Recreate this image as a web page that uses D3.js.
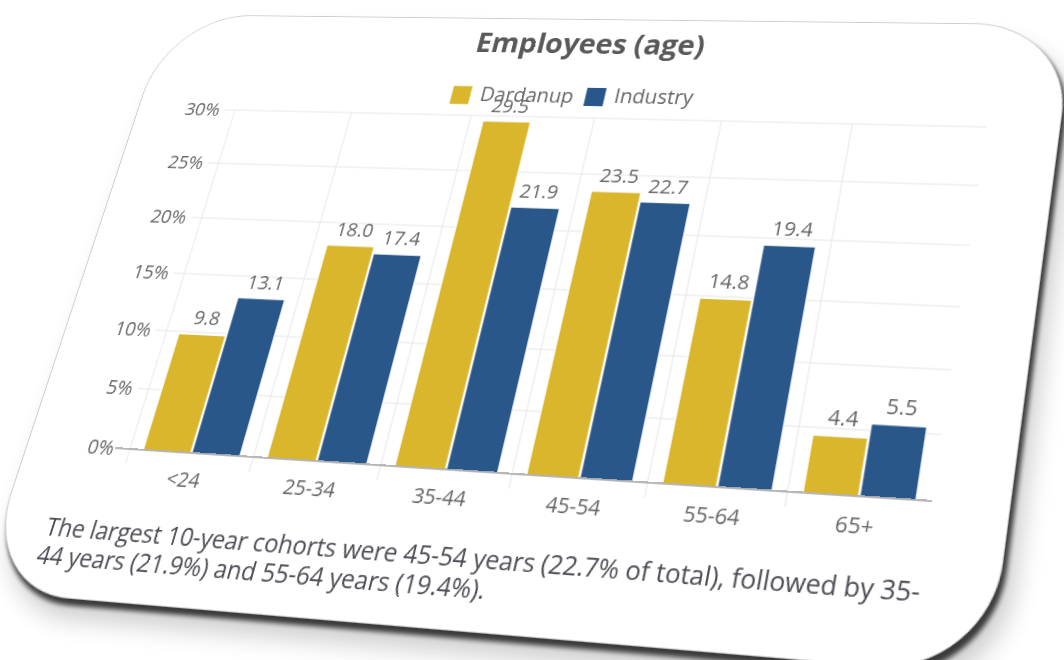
<!DOCTYPE html>
<html><head><meta charset="utf-8">
<script src="https://cdn.jsdelivr.net/npm/d3@7"></script>
<style>
html,body{margin:0;padding:0;background:#fff;overflow:hidden;width:1064px;height:660px;}
#flat{position:absolute;left:0;top:0;width:1200px;height:800px;transform-origin:0 0;}
#card{position:absolute;background:#fff;border:1px solid #cccccc;border-radius:95px;
  box-shadow:4px 6px 4px rgba(0,0,0,0.72), 12px 18px 22px rgba(0,0,0,0.2);}
svg{position:absolute;left:0;top:0;overflow:visible;}
</style></head><body>
<div id="flat"><div id="card"></div><svg id="chart" width="1200" height="800"></svg></div>
<script>
// ---- data ----
const categories = ["<24","25-34","35-44","45-54","55-64","65+"];
const seriesNames = ["Dardanup","Industry"];
const dardanup = [9.8,18.0,29.5,23.5,14.8,4.4];
const industry = [13.1,17.4,21.9,22.7,19.4,5.5];
const yTicks = [0,5,10,15,20,25,30];
const titleText = "Employees (age)";
const captionLines = [
  "The largest 10-year cohorts were 45-54 years (22.7% of total), followed by 35-",
  "44 years (21.9%) and 55-64 years (19.4%)."
];
const colors = ["#dab62c","#29578a"];

// ---- perspective helpers ----
function solveH(src, dst){
  const A=[],b=[];
  for(let i=0;i<4;i++){
    const [x,y]=src[i],[u,v]=dst[i];
    A.push([x,y,1,0,0,0,-u*x,-u*y]); b.push(u);
    A.push([0,0,0,x,y,1,-v*x,-v*y]); b.push(v);
  }
  const n=8;
  for(let c=0;c<n;c++){
    let p=c; for(let r=c+1;r<n;r++) if(Math.abs(A[r][c])>Math.abs(A[p][c])) p=r;
    [A[c],A[p]]=[A[p],A[c]]; [b[c],b[p]]=[b[p],b[c]];
    for(let r=0;r<n;r++){ if(r===c) continue; const f=A[r][c]/A[c][c];
      for(let k=c;k<n;k++) A[r][k]-=f*A[c][k]; b[r]-=f*b[c]; }
  }
  return b.map((v,i)=>v/A[i][i]);
}
function apply(h,[x,y]){ const w=h[6]*x+h[7]*y+1; return [(h[0]*x+h[1]*y+h[2])/w,(h[3]*x+h[4]*y+h[5])/w]; }

// flat layout of the plot area
const PX0=200, PX1=980, PY0=150, PY1=510;
const flatQuad=[[PX0,PY0],[PX1,PY0],[PX1,PY1],[PX0,PY1]];
const imgQuad=[[235,110],[987,127],[932,501],[130,449]];
const H=solveH(flatQuad,imgQuad), Hi=solveH(imgQuad,flatQuad);
d3.select("#flat").style("transform",
  `matrix3d(${H[0]},${H[3]},0,${H[6]},${H[1]},${H[4]},0,${H[7]},0,0,1,0,${H[2]},${H[5]},0,1)`);

// card
const cTL=apply(Hi,[161,13]), cTR=apply(Hi,[1069,25]), cBR=apply(Hi,[988,678]), cBL=apply(Hi,[-11,587]);
const cl=(cTL[0]+cBL[0])/2, cr=(cTR[0]+cBR[0])/2, ct=(cTL[1]+cTR[1])/2, cb=(cBL[1]+cBR[1])/2;
d3.select("#card").style("left",cl+"px").style("top",ct+"px")
  .style("width",(cr-cl)+"px").style("height",(cb-ct)+"px");

const svg=d3.select("#chart");
const font="'Open Sans', sans-serif";
const FS=20;

const x=d3.scaleBand().domain(categories).range([PX0,PX1]).paddingInner(0).paddingOuter(0);
const xs=d3.scaleBand().domain(seriesNames).range([0,x.bandwidth()]).paddingInner(0.03).paddingOuter(0.275);
const y=d3.scaleLinear().domain([0,30]).range([PY1,PY0]);

// horizontal gridlines (with outward ticks)
svg.append("g").selectAll("line").data(yTicks).join("line")
  .attr("x1",PX0-12).attr("x2",PX1).attr("y1",d=>y(d)).attr("y2",d=>y(d))
  .attr("stroke","#e6e6e6").attr("stroke-width",1);
// vertical category boundary gridlines (with ticks below axis)
const bounds=categories.map(c=>x(c));
svg.append("g").selectAll("line").data(bounds).join("line")
  .attr("x1",d=>d).attr("x2",d=>d).attr("y1",PY0).attr("y2",PY1+14)
  .attr("stroke","#e6e6e6").attr("stroke-width",1);

// y labels
svg.append("g").selectAll("text").data(yTicks).join("text")
  .attr("x",PX0-17).attr("y",d=>y(d)).attr("dy","0.33em")
  .attr("text-anchor","end").attr("font-family",font).attr("font-size",FS)
  .attr("fill","#666").text(d=>d+"%");

// bars
const series=[dardanup,industry];
const groups=svg.append("g").selectAll("g").data(series).join("g").attr("fill",(d,i)=>colors[i]);
groups.each(function(vals,si){
  d3.select(this).selectAll("rect").data(vals).join("rect")
    .attr("x",(v,i)=>x(categories[i])+xs(seriesNames[si]))
    .attr("width",xs.bandwidth())
    .attr("y",v=>y(v)).attr("height",v=>y(0)-y(v))
    .attr("stroke","#fff").attr("stroke-width",1);
  d3.select(this).selectAll("text").data(vals).join("text")
    .attr("x",(v,i)=>x(categories[i])+xs(seriesNames[si])+xs.bandwidth()/2)
    .attr("y",v=>y(v)-10).attr("text-anchor","middle")
    .attr("font-family",font).attr("font-size",FS).attr("fill","#666")
    .text(d3.format(".1f"));
});

// x axis line
svg.append("line").attr("x1",PX0-16).attr("x2",PX1).attr("y1",PY1).attr("y2",PY1)
  .attr("stroke","#a5a5a5").attr("stroke-width",1.3);
// x labels
svg.append("g").selectAll("text").data(categories).join("text")
  .attr("x",d=>x(d)+x.bandwidth()/2).attr("y",PY1+33).attr("text-anchor","middle")
  .attr("font-family",font).attr("font-size",FS).attr("fill","#666").text(d=>d);

// title
const tL=apply(Hi,[474,53]), tR=apply(Hi,[703,54]);
const title=svg.append("text").attr("x",(tL[0]+tR[0])/2).attr("y",(tL[1]+tR[1])/2)
  .attr("text-anchor","middle").attr("font-family",font).attr("font-weight","bold")
  .attr("font-size",26).attr("fill","#595959").text(titleText);
title.attr("font-size",26*(tR[0]-tL[0])/title.node().getComputedTextLength());

// legend
const legSq=[apply(Hi,[461,95]),apply(Hi,[595,97])];
const legTx=[apply(Hi,[479,101]),apply(Hi,[613,103])];
const leg=svg.append("g");
seriesNames.forEach((s,i)=>{
  leg.append("rect").attr("x",legSq[i][0]-10).attr("y",legSq[i][1]-10).attr("width",20).attr("height",20)
    .attr("fill",colors[i]);
  leg.append("text").attr("x",legTx[i][0]).attr("y",legTx[i][1]).attr("font-family",font)
    .attr("font-size",FS+1).attr("fill","#666").text(s);
});

// caption
const c1s=apply(Hi,[44,535]), c1e=apply(Hi,[919,597]), c2s=apply(Hi,[35,563]);
const cap1=svg.append("text").attr("x",c1s[0]).attr("y",c1s[1]).attr("font-family",font)
  .attr("font-size",21).attr("fill","#4b4b52").text(captionLines[0]);
const fs=21*(c1e[0]-c1s[0])/cap1.node().getComputedTextLength();
cap1.attr("font-size",fs);
svg.append("text").attr("x",c1s[0]).attr("y",c2s[1]).attr("font-family",font)
  .attr("font-size",fs).attr("fill","#4b4b52").text(captionLines[1]);
</script>
</body></html>
